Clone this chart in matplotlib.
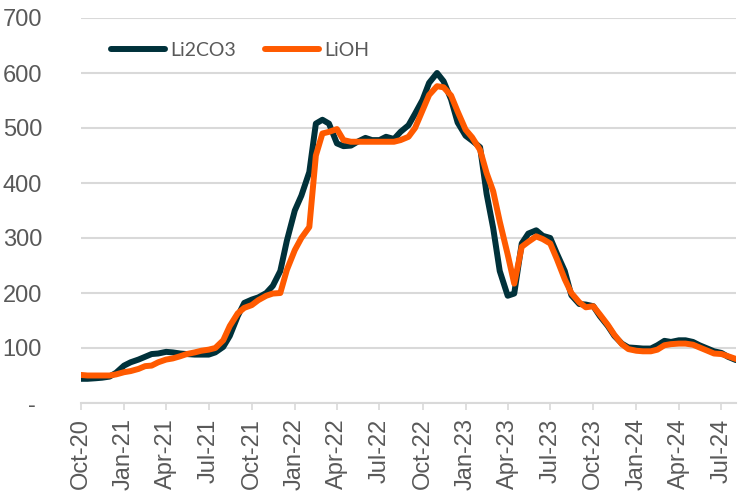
import pandas as pd
import matplotlib
matplotlib.use("Agg")
import matplotlib.pyplot as plt
import matplotlib.dates as mdates
from matplotlib.ticker import FixedLocator, FuncFormatter

# semi-monthly readings, Oct-20 .. Aug-24
dates = pd.date_range("2020-10-01", "2024-08-01", freq="SMS")

li2co3 = [44, 44, 45, 46, 48, 55, 68, 74, 79, 84,
          89, 90, 93, 92, 90, 89, 88, 88, 88, 92,
          102, 122, 158, 182, 188, 192, 200, 213, 240, 295,
          350, 377, 420, 508, 515, 508, 472, 467, 468, 475,
          482, 478, 478, 484, 480, 493, 505, 526, 551, 582,
          600, 585, 552, 510, 486, 477, 465, 380, 318, 240,
          195, 199, 290, 308, 314, 304, 300, 272, 240, 196,
          180, 179, 176, 158, 140, 122, 108, 101, 100, 99,
          99, 105, 113, 111, 114, 114, 111, 105, 99, 94,
          91, 84, 78]

lioh = [51, 50, 50, 50, 50, 52, 56, 58, 62, 67,
        68, 74, 79, 81, 85, 89, 92, 95, 97, 100,
        114, 140, 163, 173, 178, 187, 195, 199, 200, 242,
        278, 300, 320, 450, 490, 493, 498, 478, 475, 475,
        475, 475, 475, 475, 475, 478, 484, 500, 532, 560,
        576, 574, 559, 530, 497, 483, 460, 418, 385, 330,
        270, 217, 284, 293, 303, 298, 290, 262, 225, 200,
        183, 174, 176, 161, 142, 124, 107, 98, 95, 94,
        94, 97, 105, 107, 108, 108, 106, 101, 95, 90,
        89, 85, 80]

yticks = [0, 100, 200, 300, 400, 500, 600, 700]
xticks = pd.date_range("2020-10-01", "2024-07-01", freq="QS-OCT")

DARK = "#00313a"
ORANGE = "#ff5a00"
GREY = "#595959"
GRID = "#d9d9d9"

fig = plt.figure(figsize=(7.46, 4.92), dpi=100)
ax = fig.add_axes([81 / 746, 1 - 403 / 492, (736 - 81) / 746, (403 - 18) / 492])

ax.plot(dates, li2co3, color=DARK, lw=4.3, solid_capstyle="round",
        solid_joinstyle="round", label="Li2CO3", zorder=3)
ax.plot(dates, lioh, color=ORANGE, lw=4.3, solid_capstyle="round",
        solid_joinstyle="round", label="LiOH", zorder=4)

ax.set_ylim(0, 700)
ax.set_xlim(dates[0], dates[-1])
ax.yaxis.set_major_locator(FixedLocator(yticks))
ax.yaxis.set_major_formatter(FuncFormatter(lambda v, p: "- " if v == 0 else f"{v:.0f}"))
ax.grid(axis="y", color=GRID, lw=1.5, zorder=0)
ax.set_axisbelow(True)

ax.set_xticks(xticks)
ax.xaxis.set_major_formatter(mdates.DateFormatter("%b-%y"))
for lab in ax.get_xticklabels():
    lab.set_rotation(90)

for s in ["top", "right", "left"]:
    ax.spines[s].set_visible(False)
ax.spines["bottom"].set_color(GRID)
ax.spines["bottom"].set_linewidth(1.5)

ax.tick_params(axis="y", length=0, pad=28, labelsize=17, labelcolor=GREY)
ax.tick_params(axis="x", length=5, width=1.2, color=GRID, pad=6, labelsize=17, labelcolor=GREY)
for lab in ax.get_xticklabels() + ax.get_yticklabels():
    lab.set_fontfamily("Liberation Sans")

leg = ax.legend(loc="center left", bbox_to_anchor=(93 / 746, 1 - 50 / 492),
                bbox_transform=fig.transFigure, ncol=2, frameon=False,
                prop={"family": "Lato", "size": 14}, handlelength=2.8,
                handletextpad=0.25, columnspacing=1.5)
for t in leg.get_texts():
    t.set_color(GREY)

fig.savefig("out.png", dpi=100)
